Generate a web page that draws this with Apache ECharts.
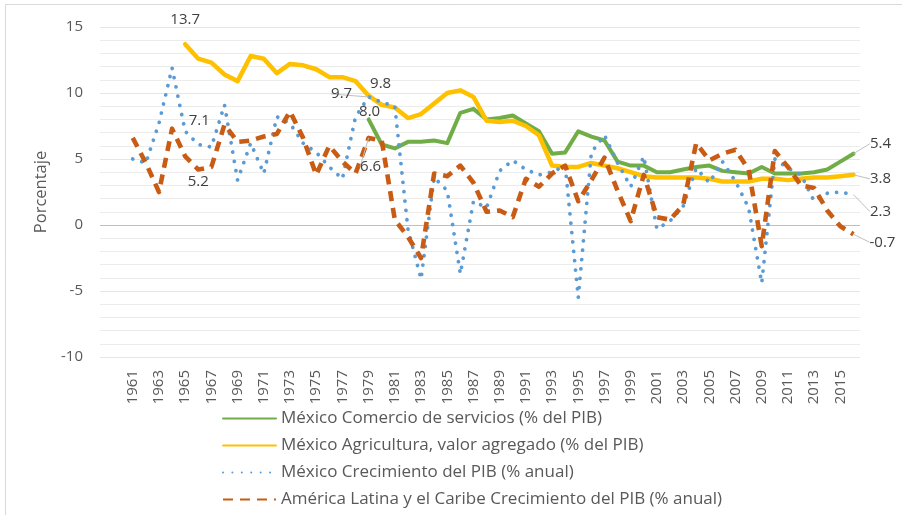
<!DOCTYPE html>
<html>
<head>
<meta charset="utf-8">
<script src="https://cdn.jsdelivr.net/npm/echarts@6/dist/echarts.min.js"></script>
<style>
html,body{margin:0;padding:0;background:#fff;}
#c{width:902px;height:515px;}
</style>
</head>
<body>
<div id="c"></div>
<script>
// Categories (first two are empty leading bands, as in the reference axis)
const years = [];
for (let y = 1959; y <= 2016; y++) years.push(String(y));

const yTicks = [-10, -5, 0, 5, 10, 15];

// México Comercio de servicios (% del PIB), 1979–2016
const servicios = [8.0, 6.1, 5.8, 6.3, 6.3, 6.4, 6.2, 8.5, 8.8, 8.0,
  8.1, 8.3, 7.7, 7.1, 5.4, 5.5, 7.1, 6.7, 6.4, 4.8,
  4.5, 4.5, 4.0, 4.0, 4.2, 4.4, 4.5, 4.1, 4.0, 3.9,
  4.4, 3.9, 3.9, 3.9, 4.0, 4.2, 4.8, 5.4];

// México Agricultura, valor agregado (% del PIB), 1965–2016
const agricultura = [13.7, 12.6, 12.3, 11.4, 10.9, 12.8, 12.6, 11.5, 12.2, 12.1,
  11.8, 11.2, 11.2, 10.9, 9.8, 9.1, 8.9, 8.1, 8.4, 9.2,
  10.0, 10.2, 9.7, 7.9, 7.8, 7.9, 7.5, 6.8, 4.5, 4.4,
  4.4, 4.7, 4.5, 4.3, 4.0, 3.7, 3.6, 3.6, 3.6, 3.6,
  3.5, 3.3, 3.3, 3.3, 3.5, 3.5, 3.4, 3.5, 3.6, 3.6,
  3.7, 3.8];

// México Crecimiento del PIB (% anual), 1961–2016
const pibMexico = [5.0, 4.7, 7.7, 11.9, 7.1, 6.1, 5.9, 9.1, 3.4, 6.2,
  3.9, 8.2, 7.7, 6.2, 5.5, 4.4, 3.5, 8.2, 9.7, 9.3,
  9.0, -0.3, -4.1, 3.6, 2.6, -3.7, 1.8, 1.3, 4.1, 4.9,
  4.2, 3.8, 4.0, 4.5, -5.5, 5.5, 6.8, 4.7, 2.9, 5.2,
  -0.3, 0.3, 1.4, 4.3, 3.2, 4.8, 3.3, 1.3, -4.4, 5.0,
  4.3, 3.8, 1.8, 2.4, 2.5, 2.3];

// América Latina y el Caribe Crecimiento del PIB (% anual), 1961–2016
const pibAmerica = [6.6, 4.7, 2.5, 7.3, 5.2, 4.2, 4.4, 7.6, 6.3, 6.4,
  6.7, 6.9, 8.6, 6.6, 3.8, 6.0, 4.8, 3.9, 6.6, 6.4,
  0.4, -0.9, -2.5, 3.9, 3.7, 4.5, 3.2, 1.0, 1.1, 0.6,
  3.5, 2.9, 3.9, 4.5, 1.8, 3.4, 5.1, 2.6, 0.3, 3.8,
  0.6, 0.4, 1.5, 6.2, 4.9, 5.4, 5.7, 4.2, -1.6, 5.6,
  4.4, 3.0, 2.8, 1.1, -0.1, -0.7];

const names = [
  'México Comercio de servicios (% del PIB)',
  'México Agricultura, valor agregado (% del PIB)',
  'México Crecimiento del PIB (% anual)',
  'América Latina y el Caribe Crecimiento del PIB (% anual)'
];

// align each series onto the category axis
function place(values, startYear) {
  const out = years.map(() => null);
  const off = years.indexOf(String(startYear));
  values.forEach((v, i) => { out[off + i] = v; });
  return out;
}

// label offsets [dx, dy] (px) from the data point, by year
const labelSpec = [
  { '1979': [1, -8], '2016': [27, -10] },
  { '1965': [0, -24], '1979': [12, -12], '2016': [27, 4] },
  { '1965': [14, -11], '1979': [-27, -3], '2016': [27, 17] },
  { '1965': [13, 25], '1979': [2, 29], '2016': [29, 8] }
];
// labels that carry a leader line
const leader = [
  ['2016'],
  ['2016'],
  ['1979', '2016'],
  ['1979', '2016']
];

function build(values, startYear, si) {
  return place(values, startYear).map((v, i) => {
    const spec = labelSpec[si][years[i]];
    if (v === null || !spec) return v;
    return {
      value: v,
      label: { show: true },
      labelLine: { show: leader[si].indexOf(years[i]) >= 0 }
    };
  });
}

const colors = ['#70AD47', '#FFC000', '#5B9BD5', '#C95C14'];
const lineStyles = [
  { width: 4, type: 'solid', cap: 'round', join: 'round' },
  { width: 4.5, type: 'solid', cap: 'round', join: 'round' },
  { width: 3.8, type: [0.01, 9.4], cap: 'round', join: 'round' },
  { width: 4.6, type: [10, 7], cap: 'butt', join: 'round' }
];
const datas = [
  build(servicios, 1979, 0),
  build(agricultura, 1965, 1),
  build(pibMexico, 1961, 2),
  build(pibAmerica, 1961, 3)
];

const FONT = 'Open Sans';

const series = names.map((n, si) => ({
  name: n,
  type: 'line',
  data: datas[si],
  z: si === 3 ? 4 : (si === 2 ? 3 : 2),
  symbol: 'circle',
  symbolSize: 0,
  showSymbol: true,
  showAllSymbol: true,
  itemStyle: { color: colors[si], opacity: 0 },
  lineStyle: Object.assign({ color: colors[si] }, lineStyles[si]),
  emphasis: { disabled: true },
  animation: false,
  label: {
    show: false,
    position: 'inside',
    formatter: p => Number(p.value).toFixed(1),
    fontFamily: FONT,
    fontSize: 15,
    color: '#404040',
    opacity: 1
  },
  labelLine: { show: false, lineStyle: { color: '#bfbfbf', width: 1 } },
  labelLayout: function (params) {
    const yr = years[params.dataIndex];
    const spec = labelSpec[si][yr];
    if (!spec) return {};
    return { dx: spec[0], dy: spec[1] };
  }
}));

const chart = echarts.init(document.getElementById('c'), null, { renderer: 'canvas' });
chart.setOption({
  animation: false,
  backgroundColor: '#ffffff',
  textStyle: { fontFamily: FONT },
  graphic: [{
    type: 'rect',
    shape: { x: 5.5, y: 4.5, width: 1000, height: 700 },
    style: { fill: 'none', stroke: '#d9d9d9', lineWidth: 1 },
    silent: true
  }],
  grid: { left: 100, right: 42, top: 27, bottom: 158 },
  legend: {
    orient: 'vertical',
    left: 222,
    top: 410,
    height: 160,
    padding: 0,
    itemWidth: 53,
    itemHeight: 10,
    itemGap: 10,
    textStyle: { fontFamily: FONT, fontSize: 17, lineHeight: 16, color: '#595959' },
    data: names
  },
  xAxis: {
    type: 'category',
    data: years,
    boundaryGap: true,
    axisLine: { show: false },
    axisTick: { show: false },
    splitLine: { show: false },
    axisLabel: {
      rotate: 90,
      margin: 13,
      fontFamily: FONT,
      fontSize: 15,
      color: '#595959',
      interval: function (index, value) {
        const y = +value;
        return y >= 1961 && y % 2 === 1;
      }
    }
  },
  yAxis: {
    type: 'value',
    min: yTicks[0],
    max: yTicks[yTicks.length - 1],
    interval: 5,
    name: 'Porcentaje',
    nameLocation: 'middle',
    nameGap: 47,
    nameTextStyle: { fontFamily: FONT, fontSize: 16.5, color: '#595959' },
    axisLine: { show: false },
    axisTick: { show: false },
    axisLabel: { margin: 17, fontFamily: FONT, fontSize: 15, color: '#595959' },
    splitLine: { show: true, lineStyle: { color: ['#e6e6e6', '#e6e6e6', '#bfbfbf', '#e6e6e6', '#e6e6e6', '#e6e6e6'], width: 1 } },
    minorTick: { show: false, splitNumber: 5 },
    minorSplitLine: { show: true, lineStyle: { color: '#ececec', width: 1 } }
  },
  series: series
});
</script>
</body>
</html>
